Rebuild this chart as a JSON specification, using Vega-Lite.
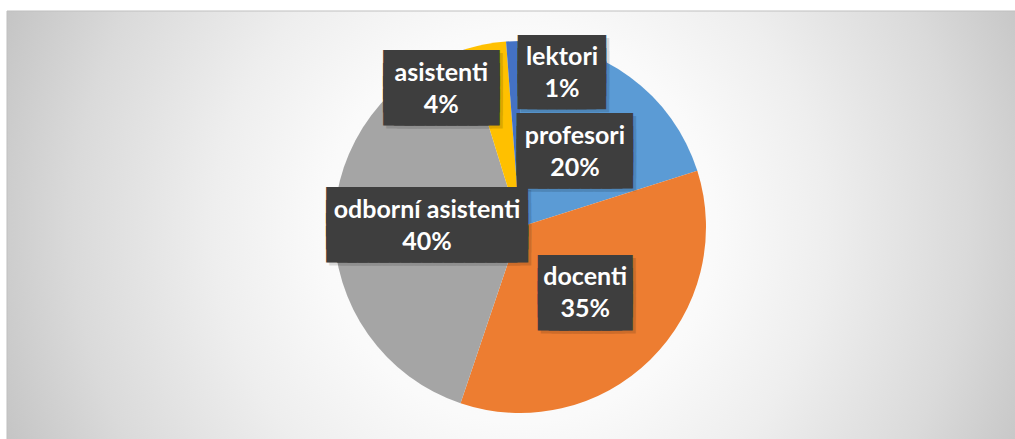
{
  "$schema": "https://vega.github.io/schema/vega-lite/v6.json",
  "width": 1026,
  "height": 432,
  "autosize": {"type": "none"},
  "padding": {"left": 7, "top": 11, "right": 0, "bottom": 0},
  "background": "white",
  "config": {"view": {"stroke": null}},
  "layer": [
    {
      "data": {"values": [{"pozadi": "plocha grafu"}]},
      "mark": {
        "type": "rect",
        "stroke": "#bfbfbf",
        "strokeWidth": 1,
        "fill": {
          "gradient": "radial",
          "x1": 0.5, "y1": 0.5, "r1": 0,
          "x2": 0.5, "y2": 0.5, "r2": 0.545,
          "stops": [
            {"offset": 0, "color": "#ffffff"},
            {"offset": 0.35, "color": "#fafafa"},
            {"offset": 0.55, "color": "#eeeeee"},
            {"offset": 0.8, "color": "#dadada"},
            {"offset": 1, "color": "#c4c4c4"}
          ]
        }
      },
      "encoding": {
        "x": {"value": 0},
        "x2": {"value": "width"},
        "y": {"value": 0},
        "y2": {"value": "height"}
      }
    },
    {
      "data": {
        "values": [
          {"poradi": 1, "kategorie": "profesori", "hodnota": 20.2},
          {"poradi": 2, "kategorie": "docenti", "hodnota": 35.2},
          {"poradi": 3, "kategorie": "odborní asistenti", "hodnota": 40.2},
          {"poradi": 4, "kategorie": "asistenti", "hodnota": 3.6},
          {"poradi": 5, "kategorie": "lektori", "hodnota": 1.2}
        ]
      },
      "transform": [
        {"joinaggregate": [{"op": "sum", "field": "hodnota", "as": "celkem"}]},
        {"calculate": "[datum.kategorie, format(datum.hodnota / datum.celkem, '.0%')]", "as": "popisek"},
        {"calculate": "pad('', length(datum.kategorie), '█')", "as": "blok"},
        {"calculate": "[datum.blok, datum.blok, datum.blok, datum.blok]", "as": "blok4"}
      ],
      "encoding": {
        "theta": {"field": "hodnota", "type": "quantitative", "stack": true},
        "order": {"field": "poradi", "type": "quantitative"},
        "detail": {"field": "kategorie", "type": "nominal"}
      },
      "layer": [
        {
          "mark": {"type": "arc", "outerRadius": 186},
          "encoding": {
            "color": {
              "field": "kategorie",
              "type": "nominal",
              "scale": {
                "domain": ["profesori", "docenti", "odborní asistenti", "asistenti", "lektori"],
                "range": ["#5B9BD5", "#ED7D31", "#A5A5A5", "#FFC000", "#4472C4"]
              },
              "legend": null
            }
          }
        },
        {
          "mark": {"type": "text", "radius": 93, "font": "DejaVu Sans", "fontSize": 13.9, "lineHeight": 13, "align": "center", "baseline": "middle", "fill": "#000000", "stroke": "#000000", "strokeWidth": 20, "strokeJoin": "miter", "dx": 3, "dy": -16.5},
          "encoding": {
            "text": {"field": "blok4"},
            "opacity": {"condition": {"test": "datum.poradi <= 3", "value": 0.13}, "value": 0}
          }
        },
        {
          "mark": {"type": "text", "radius": 93, "font": "DejaVu Sans", "fontSize": 13.9, "lineHeight": 13, "align": "center", "baseline": "middle", "fill": "#3e3e3e", "stroke": "#3e3e3e", "strokeWidth": 20, "strokeJoin": "miter", "dy": -19.5},
          "encoding": {
            "text": {"field": "blok4"},
            "opacity": {"condition": {"test": "datum.poradi <= 3", "value": 1}, "value": 0}
          }
        },
        {
          "mark": {"type": "text", "radius": 93, "font": "Lato", "fontWeight": "bold", "fontSize": 25, "lineHeight": 32, "align": "center", "baseline": "middle", "fill": "#ffffff", "dy": -16},
          "encoding": {
            "text": {"field": "popisek"},
            "opacity": {"condition": {"test": "datum.poradi <= 3", "value": 1}, "value": 0}
          }
        },
        {
          "mark": {"type": "text", "radius": 159, "thetaOffset": -0.33, "font": "DejaVu Sans", "fontSize": 13.9, "lineHeight": 13, "align": "center", "baseline": "middle", "fill": "#000000", "stroke": "#000000", "strokeWidth": 20, "strokeJoin": "miter", "dx": 3, "dy": -16.5},
          "encoding": {
            "text": {"field": "blok4"},
            "opacity": {"condition": {"test": "datum.kategorie === 'asistenti'", "value": 0.13}, "value": 0}
          }
        },
        {
          "mark": {"type": "text", "radius": 159, "thetaOffset": -0.33, "font": "DejaVu Sans", "fontSize": 13.9, "lineHeight": 13, "align": "center", "baseline": "middle", "fill": "#3e3e3e", "stroke": "#3e3e3e", "strokeWidth": 20, "strokeJoin": "miter", "dy": -19.5},
          "encoding": {
            "text": {"field": "blok4"},
            "opacity": {"condition": {"test": "datum.kategorie === 'asistenti'", "value": 1}, "value": 0}
          }
        },
        {
          "mark": {"type": "text", "radius": 159, "thetaOffset": -0.33, "font": "Lato", "fontWeight": "bold", "fontSize": 25, "lineHeight": 32, "align": "center", "baseline": "middle", "fill": "#ffffff", "dy": -16},
          "encoding": {
            "text": {"field": "popisek"},
            "opacity": {"condition": {"test": "datum.kategorie === 'asistenti'", "value": 1}, "value": 0}
          }
        },
        {
          "mark": {"type": "text", "radius": 160, "thetaOffset": 0.303, "font": "DejaVu Sans", "fontSize": 12.7, "lineHeight": 13, "align": "center", "baseline": "middle", "fill": "#000000", "stroke": "#000000", "strokeWidth": 20, "strokeJoin": "miter", "dx": 3, "dy": -16.5},
          "encoding": {
            "text": {"field": "blok4"},
            "opacity": {"condition": {"test": "datum.kategorie === 'lektori'", "value": 0.13}, "value": 0}
          }
        },
        {
          "mark": {"type": "text", "radius": 160, "thetaOffset": 0.303, "font": "DejaVu Sans", "fontSize": 12.7, "lineHeight": 13, "align": "center", "baseline": "middle", "fill": "#3e3e3e", "stroke": "#3e3e3e", "strokeWidth": 20, "strokeJoin": "miter", "dy": -19.5},
          "encoding": {
            "text": {"field": "blok4"},
            "opacity": {"condition": {"test": "datum.kategorie === 'lektori'", "value": 1}, "value": 0}
          }
        },
        {
          "mark": {"type": "text", "radius": 160, "thetaOffset": 0.303, "font": "Lato", "fontWeight": "bold", "fontSize": 25, "lineHeight": 32, "align": "center", "baseline": "middle", "fill": "#ffffff", "dy": -16},
          "encoding": {
            "text": {"field": "popisek"},
            "opacity": {"condition": {"test": "datum.kategorie === 'lektori'", "value": 1}, "value": 0}
          }
        }
      ]
    }
  ]
}
